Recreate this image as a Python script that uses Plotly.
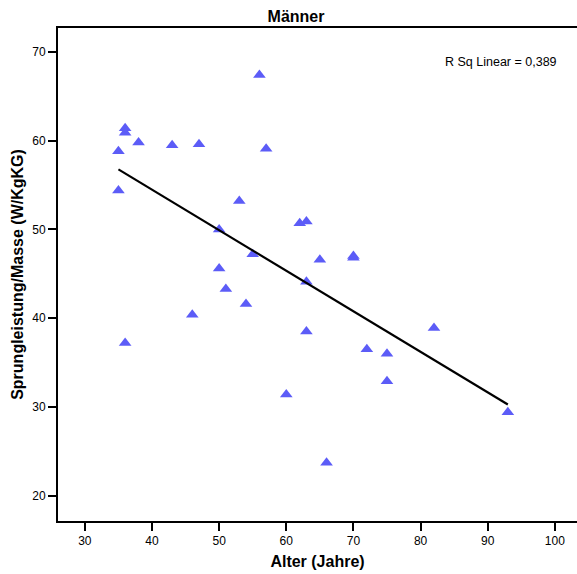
import numpy as np
import plotly.graph_objects as go

# Age (years) and jump power per body mass (W/kg) for the male group
alter = [35, 35, 36, 36, 36, 38, 43, 46, 47, 50, 50, 51, 53, 54, 55, 56,
         57, 60, 62, 63, 63, 63, 65, 66, 70, 70, 72, 75, 75, 82, 93]
leistung = [58.8, 54.4, 61.4, 60.9, 37.2, 59.8, 59.5, 40.4, 59.6, 50.0, 45.6,
            43.3, 53.2, 41.6, 47.2, 67.4, 59.1, 31.4, 50.7, 50.9, 44.1, 38.5,
            46.6, 23.7, 47.0, 46.8, 36.5, 36.0, 32.9, 38.9, 29.4]

x_ticks = [30, 40, 50, 60, 70, 80, 90, 100]
y_ticks = [20, 30, 40, 50, 60, 70]
r_sq_text = "R Sq Linear = 0,389"

# Least-squares fit line across the observed age span
slope, intercept = np.polyfit(alter, leistung, 1)
fit_x = [min(alter), max(alter)]
fit_y = [intercept + slope * v for v in fit_x]

fig = go.Figure()
fig.add_trace(go.Scatter(
    x=alter, y=leistung, mode="markers",
    marker=dict(symbol="triangle-up", size=11, color="#5c5cf7",
                line=dict(width=0)),
    showlegend=False, hoverinfo="x+y",
))
fig.add_trace(go.Scatter(
    x=fit_x, y=fit_y, mode="lines",
    line=dict(color="black", width=2.2),
    showlegend=False, hoverinfo="skip",
))

font_family = "Liberation Sans, Arial, sans-serif"
fig.update_layout(
    width=577, height=574,
    margin=dict(l=58, r=0, t=28, b=53),
    paper_bgcolor="white", plot_bgcolor="white",
    font=dict(family=font_family, color="black", size=12),
    title=dict(text="<b>Männer</b>", x=0.513, xref="container",
               xanchor="center", y=0.971, yref="container", yanchor="middle",
               font=dict(size=16, family=font_family, color="black")),
    xaxis=dict(
        range=[26.0, 103.3], tickvals=x_ticks, ticks="outside", ticklen=8,
        tickwidth=1.5, tickcolor="black", showline=True, linecolor="black",
        linewidth=2, mirror=True, showgrid=False, zeroline=False,
        tickfont=dict(size=12),
        title=dict(text="<b>Alter (Jahre)</b>", font=dict(size=16), standoff=8),
    ),
    yaxis=dict(
        range=[17.15, 72.7], tickvals=y_ticks, ticks="outside", ticklen=8,
        tickwidth=1.5, tickcolor="black", showline=True, linecolor="black",
        linewidth=2, showgrid=False, zeroline=False,
        tickfont=dict(size=12),
        title=dict(text="<b>Sprungleistung/Masse (W/KgKG)</b>",
                   font=dict(size=16), standoff=5),
    ),
    annotations=[dict(
        text=r_sq_text, x=0.966, y=0.932, xref="paper", yref="paper",
        xanchor="right", yanchor="middle", showarrow=False,
        font=dict(size=12.5, family=font_family, color="black"),
    )],
)

fig.write_html("out.html")
